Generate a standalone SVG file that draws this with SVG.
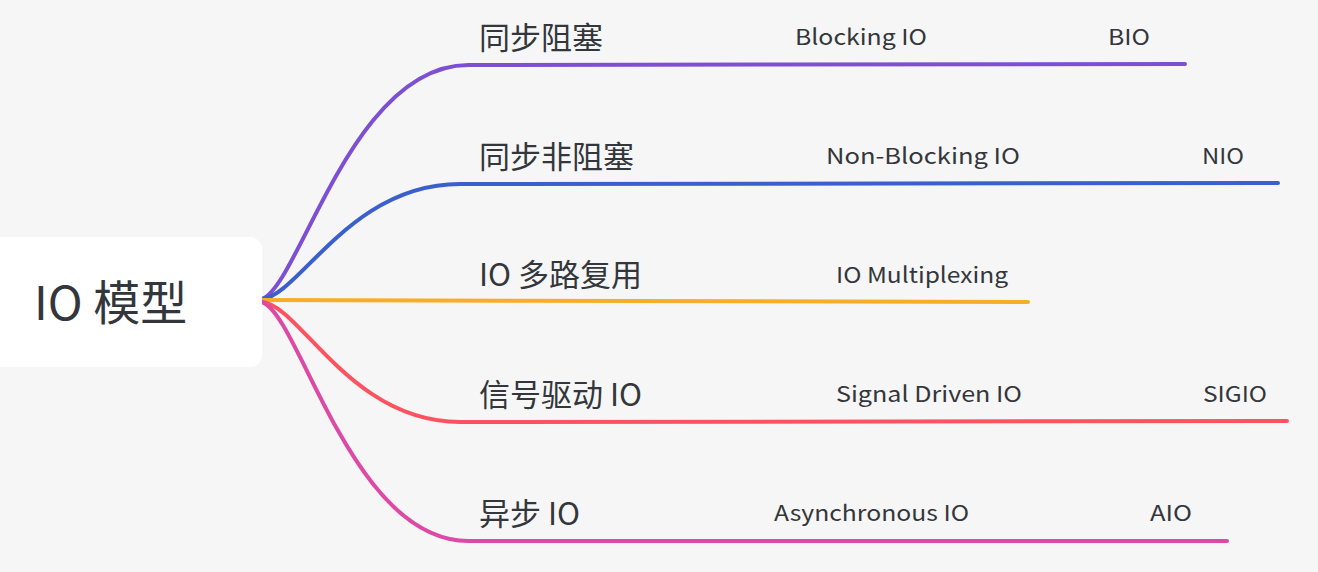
<svg xmlns="http://www.w3.org/2000/svg" width="1318" height="572" viewBox="0 0 1318 572">
<style>
.t{font-family:"Noto Sans CJK SC","Noto Sans",sans-serif;fill:#33363b}
.h{font-size:31px}
.e{font-size:22px}
.ln{fill:none;stroke-width:4;stroke-linecap:round}
</style>
<rect width="1318" height="572" fill="#f6f6f6"/>
<g id="connectors">
<path class="ln" stroke="#7d4fd3" d="M262,299 C300,285 352,63 470,65 L1185,64"/>
<path class="ln" stroke="#3b5fcc" d="M262,299 C300,295 350,184 460,184 L1278,183"/>
<path class="ln" stroke="#f6ad2a" d="M262,300 L1028,302"/>
<path class="ln" stroke="#fc5360" d="M262,302 C300,305 350,422 460,422 L1287,421"/>
<path class="ln" stroke="#dc4aa5" d="M262,302 C300,315 352,543 470,541 L1227,541"/>
</g>
<g id="root">
<rect x="-20" y="237" width="282" height="130" rx="12" fill="#ffffff"/>
<text class="t" x="34" y="320" font-size="47">IO 模型</text>
</g>
<g id="n1"><text class="t h" x="479" y="49">同步阻塞</text></g>
<g id="n1a"><text class="t e" x="795" y="45" textLength="132" lengthAdjust="spacingAndGlyphs">Blocking IO</text></g>
<g id="n1b"><text class="t e" x="1108" y="45" textLength="42" lengthAdjust="spacingAndGlyphs">BIO</text></g>
<g id="n2"><text class="t h" x="479" y="168">同步非阻塞</text></g>
<g id="n2a"><text class="t e" x="826" y="164" textLength="194" lengthAdjust="spacingAndGlyphs">Non-Blocking IO</text></g>
<g id="n2b"><text class="t e" x="1202" y="164" textLength="42" lengthAdjust="spacingAndGlyphs">NIO</text></g>
<g id="n3"><text class="t h" x="479" y="286">IO 多路复用</text></g>
<g id="n3a"><text class="t e" x="836" y="283" textLength="172" lengthAdjust="spacingAndGlyphs">IO Multiplexing</text></g>
<g id="n4"><text class="t h" x="479" y="406">信号驱动 IO</text></g>
<g id="n4a"><text class="t e" x="836" y="402" textLength="186" lengthAdjust="spacingAndGlyphs">Signal Driven IO</text></g>
<g id="n4b"><text class="t e" x="1203" y="402" textLength="64" lengthAdjust="spacingAndGlyphs">SIGIO</text></g>
<g id="n5"><text class="t h" x="479" y="525">异步 IO</text></g>
<g id="n5a"><text class="t e" x="774" y="521" textLength="195" lengthAdjust="spacingAndGlyphs">Asynchronous IO</text></g>
<g id="n5b"><text class="t e" x="1150" y="521" textLength="42" lengthAdjust="spacingAndGlyphs">AIO</text></g>
</svg>
